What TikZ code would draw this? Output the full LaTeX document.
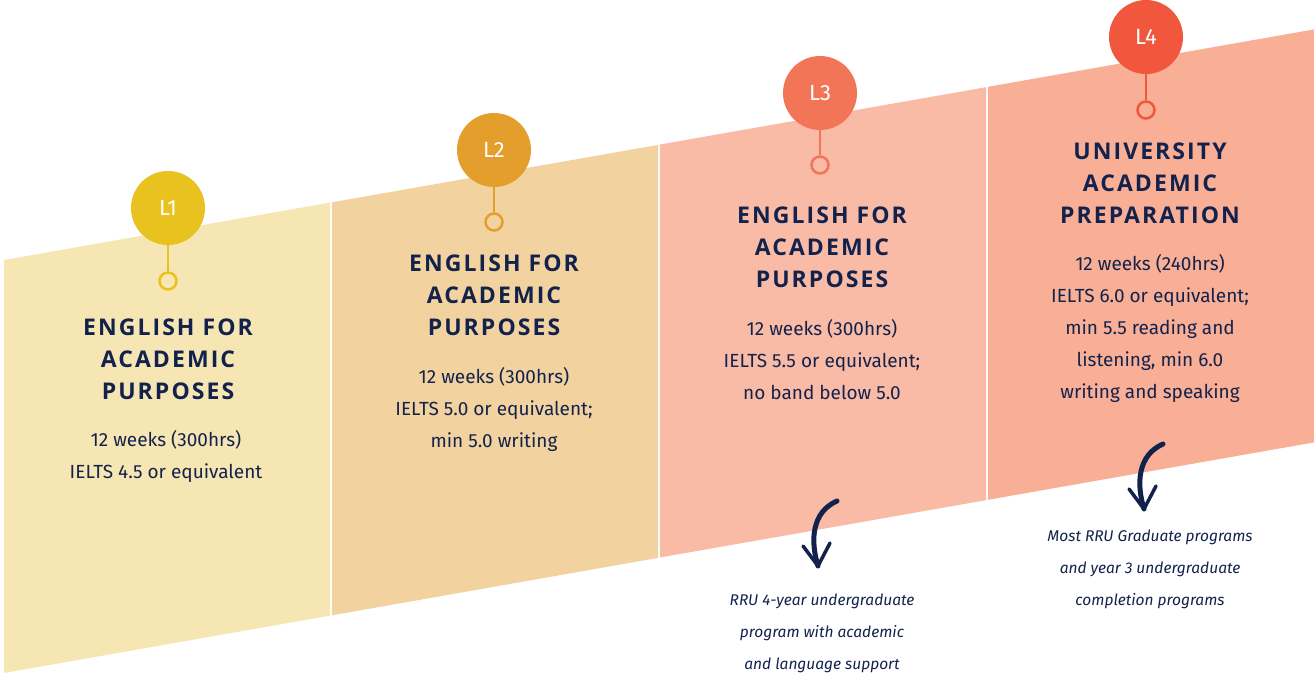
\documentclass[tikz,border=0pt]{standalone}
\usepackage{fontspec}
\setmainfont{Fira Sans}
\newfontfamily\titlefont[LetterSpace=9]{Open Sans}
\newfontfamily\bodyfont{Fira Sans}
\definecolor{navy}{HTML}{13224C}
\definecolor{pA}{HTML}{F5E6B3}
\definecolor{pB}{HTML}{F2D3A0}
\definecolor{pC}{HTML}{F9BBA6}
\definecolor{pD}{HTML}{F8AF96}
\definecolor{cA}{HTML}{E8C320}
\definecolor{cB}{HTML}{E39E2B}
\definecolor{cC}{HTML}{F27558}
\definecolor{cD}{HTML}{F0573D}
\tikzset{
  ttl/.style={text=navy, align=center, font=\titlefont\bfseries\fontsize{23}{32}\selectfont},
  bdy/.style={text=navy, align=center, font=\bodyfont\fontsize{19}{32}\selectfont},
  captxt/.style={text=navy, align=center, font=\bodyfont\itshape\fontsize{15.5}{32}\selectfont},
  lvl/.style={circle, minimum size=74pt, inner sep=0pt, text=white, font=\bodyfont\fontsize{22}{26}\selectfont},
  dot/.style={circle, minimum size=17pt, inner sep=0pt, line width=2.5pt, draw},
  stem/.style={line width=2.5pt},
  curvy/.style={draw=navy, line width=5pt, line cap=round, line join=round},
}
\begin{document}
\begin{tikzpicture}[x=1pt,y=-1pt]
\useasboundingbox (0,0) rectangle (1314,674);
% panels: top(x) = 260 - 0.176(x-4), height 413
\fill[pA] (4,260) -- (330,202.6) -- (330,615.6) -- (4,673) -- cycle;
\fill[pB] (332,202.3) -- (658,144.9) -- (658,557.9) -- (332,615.3) -- cycle;
\fill[pC] (660,144.5) -- (986,87.2) -- (986,500.2) -- (660,557.5) -- cycle;
\fill[pD] (988,86.8) -- (1314,29.4) -- (1314,442.4) -- (988,499.8) -- cycle;
% level markers
\node[dot, draw=cA] (d1) at (168,281) {};
\node[lvl, fill=cA] (l1) at (168,208) {L1};
\draw[stem, cA] (l1) -- (d1);
\node[dot, draw=cB] (d2) at (494,222) {};
\node[lvl, fill=cB] (l2) at (494,150) {L2};
\draw[stem, cB] (l2) -- (d2);
\node[dot, draw=cC] (d3) at (820,165) {};
\node[lvl, fill=cC] (l3) at (820,93) {L3};
\draw[stem, cC] (l3) -- (d3);
\node[dot, draw=cD] (d4) at (1146,110) {};
\node[lvl, fill=cD] (l4) at (1146,37) {L4};
\draw[stem, cD] (l4) -- (d4);
% titles
\node[ttl] (t1) at (168,359) {ENGLISH FOR\\ACADEMIC\\PURPOSES};
\node[ttl] (t2) at (494,295) {ENGLISH FOR\\ACADEMIC\\PURPOSES};
\node[ttl] (t3) at (822,247) {ENGLISH FOR\\ACADEMIC\\PURPOSES};
\node[ttl] (t4) at (1150,183) {UNIVERSITY\\ACADEMIC\\PREPARATION};
% bodies
\node[bdy] (b1) at (166,456) {12 weeks (300hrs)\\IELTS 4.5 or equivalent};
\node[bdy] (b2) at (494,409) {12 weeks (300hrs)\\IELTS 5.0 or equivalent;\\min 5.0 writing};
\node[bdy] (b3) at (822,360) {12 weeks (300hrs)\\IELTS 5.5 or equivalent;\\no band below 5.0};
\node[bdy] (b4) at (1150,328.5) {12 weeks (240hrs)\\IELTS 6.0 or equivalent;\\min 5.5 reading and\\listening, min 6.0\\writing and speaking};
% captions
\node[captxt] (c3) at (822,633) {RRU 4-year undergraduate\\program with academic\\and language support};
\node[captxt] (c4) at (1150,569) {Most RRU Graduate programs\\and year 3 undergraduate\\completion programs};
% arrows
\coordinate (a3s) at (837,501);
\coordinate (a3e) at (818,566);
\coordinate (a3l) at (803,546);
\coordinate (a3r) at (830,543);
\draw[curvy] (a3s) .. controls (812,512) and (810,540) .. (a3e);
\draw[curvy, line width=3.5pt] (a3l) -- (a3e) -- (a3r);
\coordinate (a4s) at (1163,444);
\coordinate (a4e) at (1144,509);
\coordinate (a4l) at (1129,489);
\coordinate (a4r) at (1156,486);
\draw[curvy] (a4s) .. controls (1138,455) and (1136,483) .. (a4e);
\draw[curvy, line width=3.5pt] (a4l) -- (a4e) -- (a4r);
\end{tikzpicture}
\end{document}
